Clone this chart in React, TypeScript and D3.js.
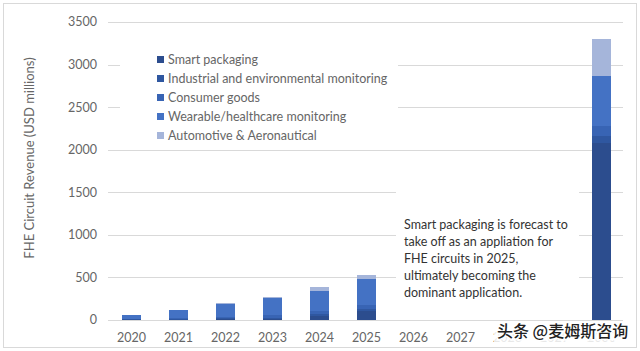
import React from "react";
import * as d3 from "d3";

const years = ["2020", "2021", "2022", "2023", "2024", "2025", "2026", "2027", "2028", "2029", "2030"];
const seriesNames = [
  "Smart packaging",
  "Industrial and environmental monitoring",
  "Consumer goods",
  "Wearable/healthcare monitoring",
  "Automotive & Aeronautical",
];
const smartPackaging = [2, 5, 8, 12, 50, 100, 0, 0, 0, 0, 2075];
const industrial = [5, 8, 12, 16, 25, 35, 0, 0, 0, 0, 90];
const consumerGoods = [8, 12, 20, 25, 30, 40, 0, 0, 0, 0, 115];
const wearable = [42, 90, 148, 202, 240, 305, 0, 0, 0, 0, 586];
const automotive = [3, 5, 7, 10, 45, 45, 0, 0, 0, 0, 434];
const yTicks = [0, 500, 1000, 1500, 2000, 2500, 3000, 3500];
const colors = ["#2C4D8E", "#2F57A0", "#3864B4", "#4472C4", "#A5B5DA"];
const noteLines = [
  "Smart packaging is forecast to",
  "take off as an appliation for",
  "FHE circuits in 2025,",
  "ultimately becoming the",
  "dominant application.",
];

const W = 640;
const H = 351;
const FONT = "Lato, 'Open Sans', sans-serif";

export default function App() {
  const x = d3.scaleBand<string>().domain(years).range([108, 625]).padding(0);
  const y = d3.scaleLinear().domain([0, 3500]).range([320, 22]);
  const seriesArr = [smartPackaging, industrial, consumerGoods, wearable, automotive];
  const rows = years.map((yr, i) => {
    const r: any = { year: yr };
    seriesNames.forEach((n, k) => (r[n] = seriesArr[k][i]));
    return r;
  });
  const stack = d3.stack<any>().keys(seriesNames)(rows);
  const barW = x.bandwidth() * 0.4;

  return (
    <svg width={W} height={H} style={{ position: "absolute", left: 0, top: 0, background: "#fff" }}>
      <rect x={0} y={0} width={W} height={H} fill="#fff" />
      <rect x={3.5} y={3.5} width={633} height={344} fill="none" stroke="#D9D9D9" />
      {yTicks.map((t) => (
        <line key={t} x1={108} x2={623} y1={Math.round(y(t)) + 0.5} y2={Math.round(y(t)) + 0.5} stroke="#D9D9D9" strokeWidth={1.2} />
      ))}
      {yTicks.map((t) => (
        <text key={"l" + t} x={97} y={y(t)} dy="0.35em" textAnchor="end" fontFamily={FONT} fontSize={12.5} fill="#666">
          {t}
        </text>
      ))}
      {stack.map((s, k) => (
        <g key={k} fill={colors[k]} shapeRendering="crispEdges">
          {s.map((d, i) =>
            d[1] - d[0] > 0 ? (
              <rect
                key={i}
                x={(x(years[i]) as number) + (x.bandwidth() - barW) / 2}
                y={y(d[1])}
                width={barW}
                height={y(d[0]) - y(d[1])}
              />
            ) : null
          )}
        </g>
      ))}
      {years.map((yr) => (
        <text key={yr} x={(x(yr) as number) + x.bandwidth() / 2} y={338} dy="0.35em" textAnchor="middle" fontFamily={FONT} fontSize={12.5} fill="#666">
          {yr}
        </text>
      ))}
      <text transform={`translate(29,158) rotate(-90)`} textAnchor="middle" dy="0.35em" fontFamily={FONT} fontSize={13} fill="#666">
        FHE Circuit Revenue (USD millions)
      </text>
      <rect x={120} y={45} width={278} height={100} fill="#fff" />
      {seriesNames.map((n, k) => (
        <g key={n} transform={`translate(157,${59.5 + k * 19})`}>
          <rect x={0} y={-3.5} width={7} height={7} fill={colors[k]} />
          <text x={11} y={0} dy="0.35em" fontFamily={FONT} fontSize={12.5} fill="#666">
            {n}
          </text>
        </g>
      ))}
      <rect x={396} y={185} width={183} height={124} fill="#fff" />
      {noteLines.map((l, i) => (
        <text key={i} x={404} y={225 + i * 16.8} dy="0.35em" fontFamily={FONT} fontSize={12.5} fill="#333">
          {l}
        </text>
      ))}
      <rect x={494} y={322} width={140} height={20} fill="#fff" opacity={0.85} />
      <text
        x={497}
        y={331}
        dy="0.35em"
        fontFamily="'Noto Sans CJK SC', sans-serif"
        fontSize={16}
        fontWeight={500}
        fill="#222"
        stroke="#fff"
        strokeWidth={3}
        style={{ paintOrder: "stroke" }}
      >
        头条 @麦姆斯咨询
      </text>
    </svg>
  );
}
